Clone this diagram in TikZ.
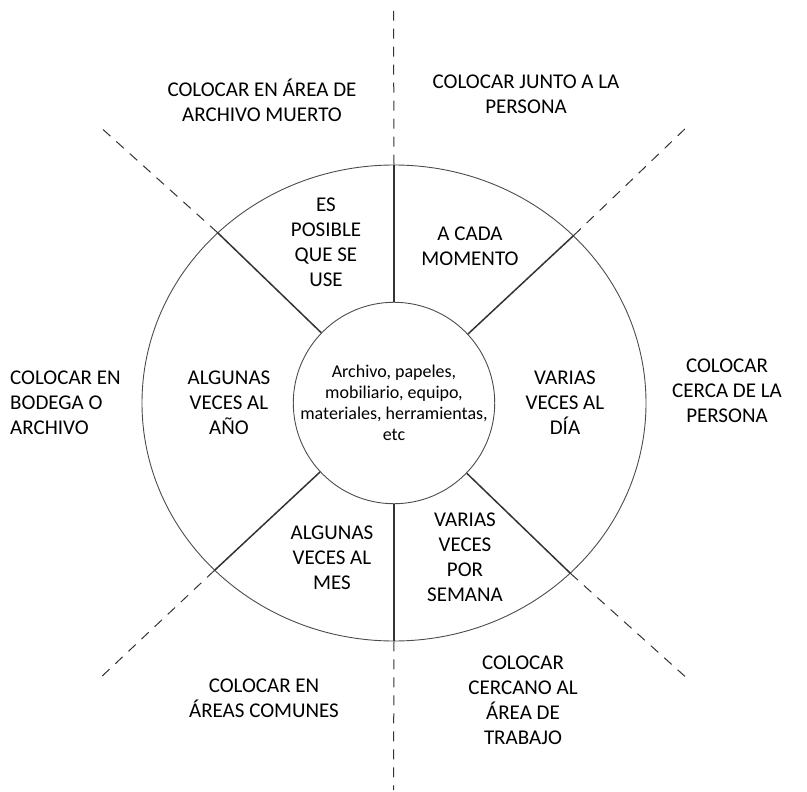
\documentclass[tikz,border=0pt]{standalone}
\usepackage{fontspec}
\setmainfont{Carlito}
\usetikzlibrary{shapes.geometric}
\begin{document}
\begin{tikzpicture}[x=1pt,y=-1pt,
  ring/.style={draw=black!70, line width=0.9pt},
  spoke/.style={draw=black!80, line width=1.5pt},
  guide/.style={draw=black!80, line width=1pt, dash pattern=on 10pt off 8pt},
  zone/.style={align=center, font=\fontsize{21}{25}\selectfont, inner sep=0pt, text=black}
]
\useasboundingbox (0,0) rectangle (807,792);

% ring and hub
\node[ellipse, ring, minimum width=504pt, minimum height=476pt, inner sep=0pt] (outer) at (394,403) {};
\node[circle, ring, minimum size=194pt, inner sep=0pt, align=center,
      font=\fontsize{18}{21}\selectfont] (inner) at (394,403)
  {Archivo, papeles,\\mobiliario, equipo,\\materiales, herramientas,\\etc};

% free ends of the dashed guides
\coordinate (eN)  at (393.5,11);
\coordinate (eS)  at (393.5,790);
\coordinate (eNW) at (98,125);
\coordinate (eNE) at (689,125);
\coordinate (eSW) at (98,680);
\coordinate (eSE) at (689,680);

% spokes across the ring
\draw[spoke] (inner.north) -- (outer.north);
\draw[spoke] (inner.south) -- (outer.south);
\draw[spoke] (inner.136.75) -- (outer.136.75);
\draw[spoke] (inner.43.25) -- (outer.43.25);
\draw[spoke] (inner.223.25) -- (outer.223.25);
\draw[spoke] (inner.316.75) -- (outer.316.75);

% dashed guides outside the ring
\draw[guide] (outer.north) -- (eN);
\draw[guide] (outer.south) -- (eS);
\draw[guide] (outer.136.75) -- (eNW);
\draw[guide] (outer.43.25) -- (eNE);
\draw[guide] (outer.223.25) -- (eSW);
\draw[guide] (outer.316.75) -- (eSE);

% frequency sectors
\node[zone] (fPosible) at (326,242) {ES\\POSIBLE\\QUE SE\\USE};
\node[zone] (fMomento) at (470,246) {A CADA\\MOMENTO};
\node[zone] (fAnio)    at (229,403) {ALGUNAS\\VECES AL\\AÑO};
\node[zone] (fDia)     at (565,403) {VARIAS\\VECES AL\\DÍA};
\node[zone] (fMes)     at (332,558) {ALGUNAS\\VECES AL\\MES};
\node[zone] (fSemana)  at (465,557) {VARIAS\\VECES\\POR\\SEMANA};

% placement advice
\node[zone] (pMuerto)  at (262,100) {COLOCAR EN ÁREA DE\\ARCHIVO MUERTO};
\node[zone] (pJunto)   at (526,94)  {COLOCAR JUNTO A LA\\PERSONA};
\node[zone, align=left, anchor=west] (pBodega) at (10,403) {COLOCAR EN\\BODEGA O\\ARCHIVO};
\node[zone] (pCerca)   at (727,391) {COLOCAR\\CERCA DE LA\\PERSONA};
\node[zone] (pComunes) at (264,698) {COLOCAR EN\\ÁREAS COMUNES};
\node[zone] (pCercano) at (523,700) {COLOCAR\\CERCANO AL\\ÁREA DE\\TRABAJO};
\end{tikzpicture}
\end{document}
